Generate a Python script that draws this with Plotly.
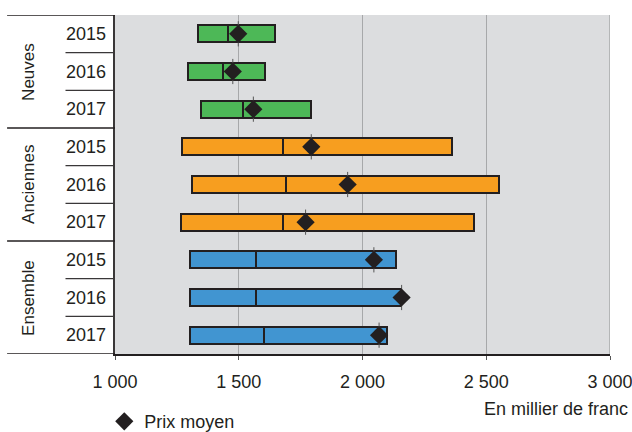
import plotly.graph_objects as go

# Prix des logements : intervalle (bas - haut), médiane et prix moyen
groups = ["Neuves", "Anciennes", "Ensemble"]
years = ["2015", "2016", "2017"]

low = [1335, 1296, 1347, 1272, 1310, 1265, 1303, 1303, 1303]
median = [1457, 1435, 1516, 1677, 1691, 1677, 1570, 1570, 1602]
high = [1648, 1607, 1793, 2360, 2551, 2449, 2135, 2156, 2098]
mean = [1498, 1476, 1559, 1793, 1940, 1770, 2046, 2158, 2067]

group_colors = ["#4DB857", "#F79E1F", "#4195D1"]

tick_vals = [1000, 1500, 2000, 2500, 3000]
tick_text = ["1 000", "1 500", "2 000", "2 500", "3 000"]

DARK = "#231F20"
GRID = "#A7A8AA"
FONT = "Liberation Sans, Arial, sans-serif"

n = len(low)
rows = list(range(n))
colors = [group_colors[i // len(years)] for i in rows]

fig = go.Figure()

# Lower segment (bas -> médiane) and upper segment (médiane -> haut)
fig.add_trace(go.Bar(
    y=rows, x=[m - l for m, l in zip(median, low)], base=low,
    orientation="h", width=0.45,
    marker=dict(color=colors, line=dict(color=DARK, width=2)),
    showlegend=False, hoverinfo="skip",
))
fig.add_trace(go.Bar(
    y=rows, x=[h - m for h, m in zip(high, median)], base=median,
    orientation="h", width=0.45,
    marker=dict(color=colors, line=dict(color=DARK, width=2)),
    showlegend=False, hoverinfo="skip",
))

# Thin stem through each mean marker
fig.add_trace(go.Scatter(
    x=mean, y=rows, mode="markers",
    marker=dict(symbol="line-ns", size=18, line=dict(color="#555", width=1)),
    showlegend=False, hoverinfo="skip",
))
# Prix moyen
fig.add_trace(go.Scatter(
    x=mean, y=rows, mode="markers", name="Prix moyen",
    marker=dict(symbol="diamond", size=14, color=DARK),
))

shapes = []
# Grid line on the right border of the plot
shapes.append(dict(type="line", xref="x", yref="paper",
                   x0=tick_vals[-1], x1=tick_vals[-1], y0=0, y1=1,
                   line=dict(color=GRID, width=1.5), layer="below"))
# Separators between years inside each group
for i in range(n - 1):
    if (i + 1) % len(years) != 0:
        shapes.append(dict(type="line", xref="paper", yref="y",
                           x0=-0.1, x1=0, y0=i + 0.5, y1=i + 0.5,
                           line=dict(color="#3A3738", width=1.3)))
# Separators between groups (full width of the label area)
for g in range(len(groups) + 1):
    yb = g * len(years) - 0.5
    shapes.append(dict(type="line", xref="paper", yref="y",
                       x0=-0.218, x1=0, y0=yb, y1=yb,
                       line=dict(color=DARK, width=1.5)))

annotations = []
for i in rows:
    annotations.append(dict(
        xref="paper", yref="y", x=-0.014, y=i, text=years[i % len(years)],
        xanchor="right", yanchor="middle", showarrow=False,
        font=dict(family=FONT, size=18, color=DARK),
    ))
for g, name in enumerate(groups):
    annotations.append(dict(
        xref="paper", yref="y", x=-0.175, y=g * len(years) + 1, text=name,
        textangle=-90, xanchor="center", yanchor="middle", showarrow=False,
        font=dict(family=FONT, size=17, color=DARK),
    ))
annotations.append(dict(
    xref="paper", yref="paper", x=1.04, y=-0.163, text="En millier de franc",
    xanchor="right", yanchor="middle", showarrow=False,
    font=dict(family=FONT, size=18, color=DARK),
))

fig.update_layout(
    width=632, height=432,
    margin=dict(l=115, r=22, t=15, b=78, autoexpand=False),
    paper_bgcolor="white", plot_bgcolor="#DCDDDF",
    barmode="overlay", bargap=0,
    font=dict(family=FONT, color=DARK),
    shapes=shapes, annotations=annotations,
    legend=dict(xref="container", yref="container", x=0.165, y=0.024,
                xanchor="left", yanchor="middle",
                bgcolor="rgba(0,0,0,0)", font=dict(family=FONT, size=18, color=DARK)),
    showlegend=True,
)
fig.update_xaxes(
    range=[1000, 3000], tickvals=tick_vals, ticktext=tick_text,
    showgrid=True, gridcolor=GRID, gridwidth=1,
    showline=True, linecolor=DARK, linewidth=1.5,
    ticks="outside", ticklen=4, tickcolor="#555", tickwidth=1,
    tickfont=dict(family=FONT, size=18, color=DARK),
    ticklabelstandoff=7, ticklabeloverflow="allow",
    zeroline=False, automargin=False,
)
fig.update_yaxes(
    range=[n - 0.5, -0.5], showticklabels=False, showgrid=False,
    showline=True, linecolor="#3A3738", linewidth=1.5, zeroline=False,
    automargin=False,
)

fig.write_html("out.html")
